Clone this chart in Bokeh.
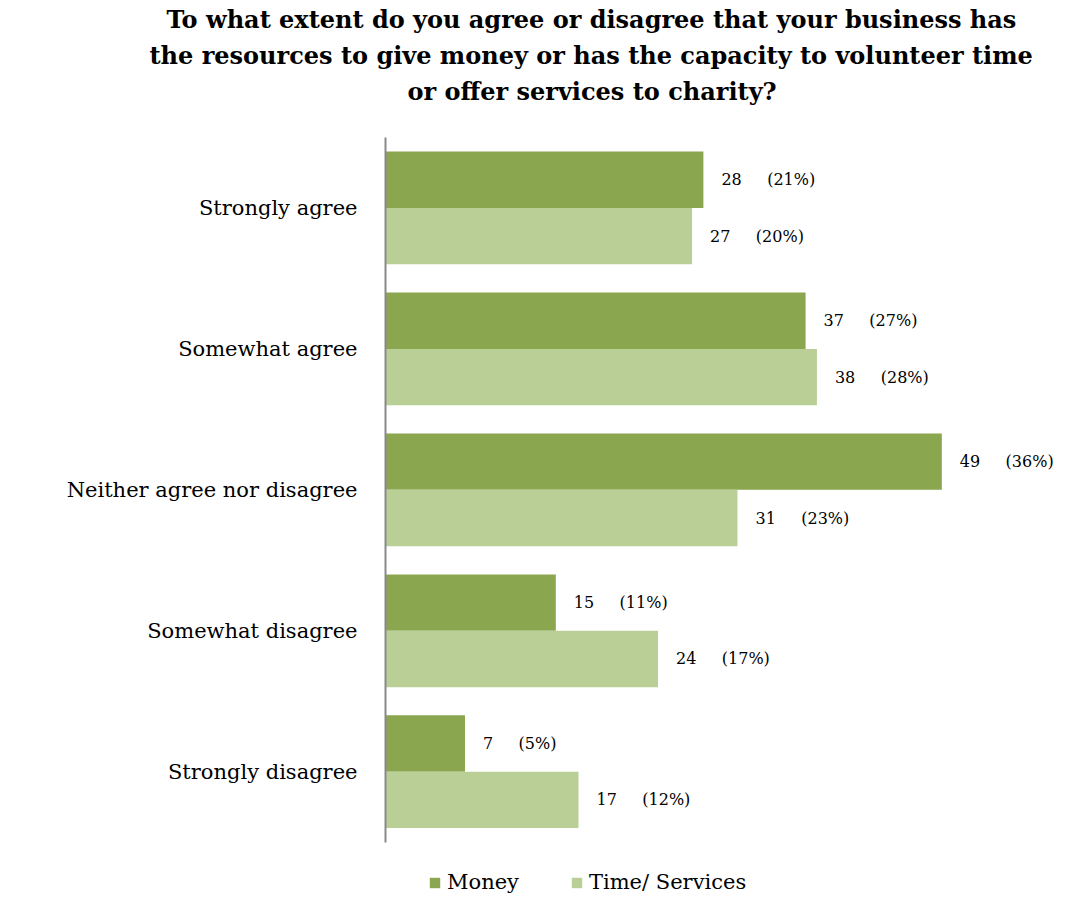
from bokeh.plotting import figure
from bokeh.models import ColumnDataSource, Legend, LegendItem, Range1d, Title, FixedTicker
from bokeh.core.properties import value
from bokeh.embed import file_html
from bokeh.resources import INLINE

categories = ["Strongly agree", "Somewhat agree", "Neither agree nor disagree",
              "Somewhat disagree", "Strongly disagree"]
money = [28, 37, 49, 15, 7]
money_pct = [21, 27, 36, 11, 5]
time_services = [27, 38, 31, 24, 17]
time_pct = [20, 28, 23, 17, 12]
series_names = ["Money", "Time/ Services"]
title_lines = ["To what extent do you agree or disagree that your business has",
               "the resources to give money or has the capacity to volunteer time",
               "or offer services to charity?"]

MONEY_C = "#8AA64E"
TIME_C = "#B9CF96"
FONT = "DejaVu Serif"

n = len(categories)
centers = [n - 0.5 - i for i in range(n)]  # top category first

NB = "\u00a0"
def lab(v, p):
    return f"{v}{NB*5}({p}%)"

src = ColumnDataSource(dict(
    yc=centers,
    ym=[c + 0.2 for c in centers],
    yt=[c - 0.2 for c in centers],
    money=money,
    time=time_services,
    money_lab=[lab(v, p) for v, p in zip(money, money_pct)],
    time_lab=[lab(v, p) for v, p in zip(time_services, time_pct)],
))

p = figure(width=1056, height=894, output_backend="svg", toolbar_location=None,
           y_range=Range1d(-0.371, n), x_range=Range1d(0, 59.1),
           min_border_left=385, min_border_right=0, min_border_top=0, min_border_bottom=0)
p.title = None
p.outline_line_color = None
p.grid.visible = False
p.xaxis.visible = False

yax = p.yaxis[0]
yax.ticker = FixedTicker(ticks=centers)
yax.major_label_overrides = {c: name for c, name in zip(centers, categories)}
yax.bounds = (0, n)
yax.axis_line_color = "#898989"
yax.axis_line_width = 2
yax.major_tick_line_color = None
yax.minor_tick_line_color = None
yax.major_label_standoff = 22
yax.major_label_text_font = FONT
yax.major_label_text_font_size = "21px"
yax.major_label_text_color = "#000000"

r1 = p.hbar(y="ym", right="money", left=0, height=0.4,
            source=src, color=MONEY_C, line_color=None)
r2 = p.hbar(y="yt", right="time", left=0, height=0.4,
            source=src, color=TIME_C, line_color=None)

p.text(x="money", y="ym", text="money_lab", source=src,
       x_offset=18, text_baseline="middle", text_align="left",
       text_font=value(FONT), text_font_size="16px", text_color="#000000")
p.text(x="time", y="yt", text="time_lab", source=src,
       x_offset=18, text_baseline="middle", text_align="left",
       text_font=value(FONT), text_font_size="16px", text_color="#000000")

# spacer between title and plot area
p.add_layout(Title(text=NB, text_font=FONT, text_font_size="22px", standoff=1), "above")
# title lines, nearest the frame first
offsets = [-219, -236, 22]
for i in [2, 1, 0]:
    t = Title(text=title_lines[i], align="left", offset=offsets[i],
              text_font=FONT, text_font_style="bold", text_font_size="24px",
              text_color="#000000", standoff=5)
    p.add_layout(t, "above")

legend = Legend(items=[LegendItem(label=series_names[0], renderers=[r1]),
                       LegendItem(label=series_names[1], renderers=[r2])],
                orientation="horizontal", location=(43, 0),
                label_text_font=FONT, label_text_font_size="21px", label_text_color="#000000",
                glyph_width=13, glyph_height=13, spacing=51, label_standoff=6,
                border_line_color=None, background_fill_alpha=0, padding=0, margin=0)
p.add_layout(legend, "center")

open("out.html", "w").write(file_html(p, INLINE))
